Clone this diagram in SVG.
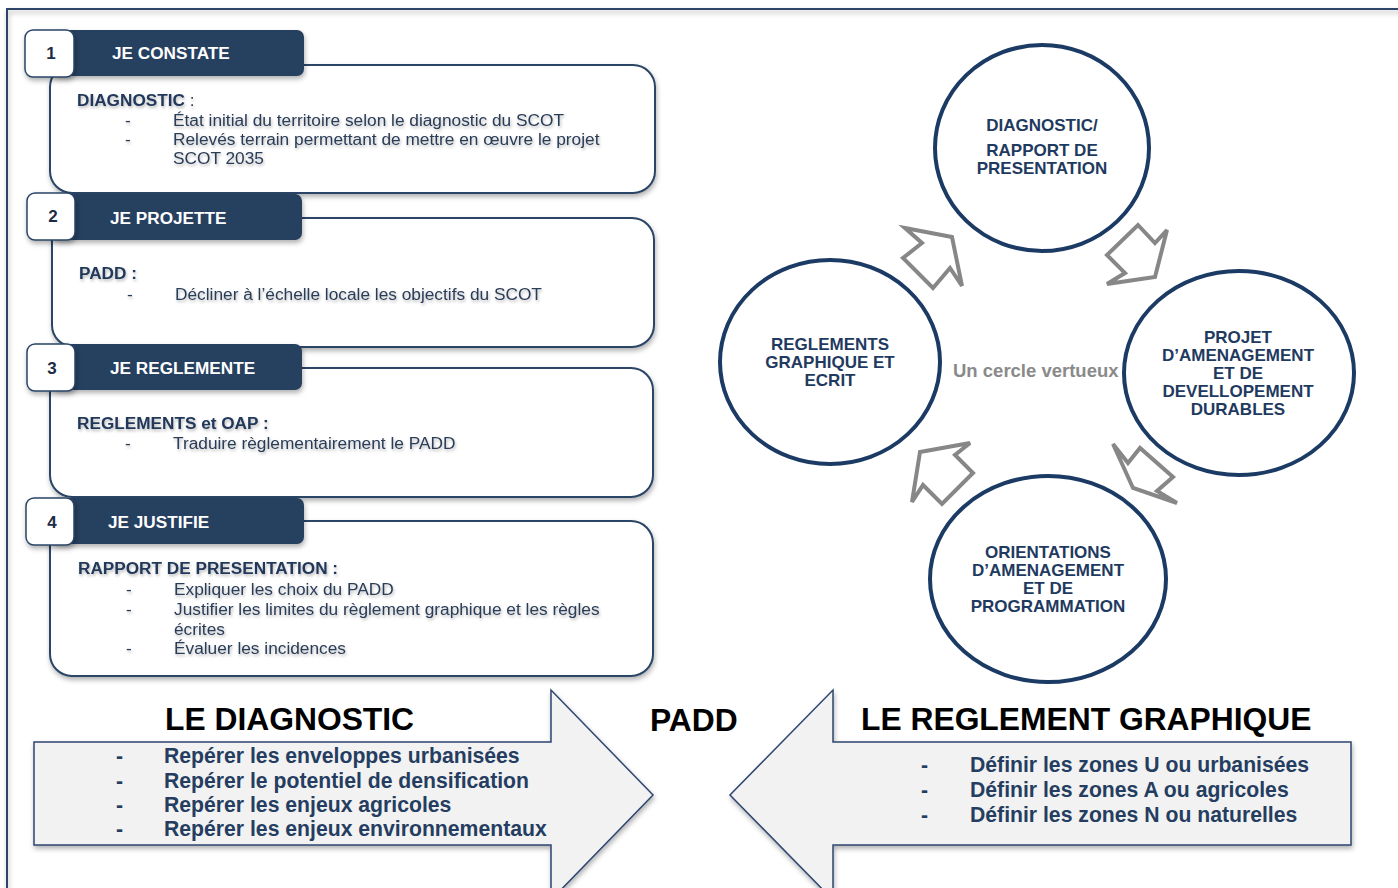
<svg xmlns="http://www.w3.org/2000/svg" width="1398" height="888" viewBox="0 0 1398 888">
<defs>
<filter id="sh" x="-10%" y="-10%" width="125%" height="140%"><feDropShadow dx="1" dy="3" stdDeviation="2.5" flood-color="#000" flood-opacity="0.3"/></filter>
<filter id="tsh" x="-5%" y="-20%" width="110%" height="160%"><feDropShadow dx="1" dy="2" stdDeviation="1.5" flood-color="#000" flood-opacity="0.28"/></filter>
<style>
.frame{fill:none;stroke:#2d4468;stroke-width:2}
.cbox{fill:#fff;stroke:#2a4466;stroke-width:2}
.hdr{fill:#283f5f}
.num{fill:#fff;stroke:#2a4466;stroke-width:1.5}
.numt{font:bold 17px "Liberation Sans",Arial,sans-serif;fill:#1c2c44;text-anchor:middle}
.hdrt{font:bold 17.2px "Liberation Sans",Arial,sans-serif;fill:#fff}
.bt{font:bold 17.2px "Liberation Sans",Arial,sans-serif;fill:#23395a}
.rt{font:17.3px "Liberation Sans",Arial,sans-serif;fill:#2a3c57}
.circ{fill:#fff;stroke:#1b3a64;stroke-width:4}
.ct{font:bold 17px "Liberation Sans",Arial,sans-serif;fill:#1f3a60;text-anchor:middle}
.arr{fill:#fff;stroke:#878787;stroke-width:4;stroke-linejoin:miter}
.vt{font:bold 18.5px "Liberation Sans",Arial,sans-serif;fill:#8a8a8a}
.big{fill:#f2f2f2;stroke:#2d4670;stroke-width:1.5}
.title{font:bold 31.8px "Liberation Sans",Arial,sans-serif;fill:#000}
.it{font:bold 21.2px "Liberation Sans",Arial,sans-serif;fill:#243d60}
</style>
</defs>
<rect width="1398" height="888" fill="#fff"/>
<rect class="frame" x="7" y="9" width="1420" height="920" filter="url(#sh)"/>

<g id="step1">
<rect class="cbox" x="50" y="65" width="605" height="128" rx="22" filter="url(#sh)"/>
<rect class="hdr" x="52" y="30" width="252" height="46" rx="7" filter="url(#sh)"/>
<rect class="num" x="25" y="30" width="49" height="47" rx="8" filter="url(#sh)"/>
<text class="numt" x="51" y="59">1</text>
<text class="hdrt" x="112" y="59">JE CONSTATE</text>
<g filter="url(#tsh)">
<text class="bt" x="77" y="106">DIAGNOSTIC<tspan class="rt" style="font-weight:normal"> :</tspan></text>
<text class="rt" x="125" y="126">-</text><text class="rt" x="173" y="126">État initial du territoire selon le diagnostic du SCOT</text>
<text class="rt" x="125" y="145">-</text><text class="rt" x="173" y="145">Relevés terrain permettant de mettre en œuvre le projet</text>
<text class="rt" x="173" y="164">SCOT 2035</text>
</g>
</g>

<g id="step2">
<rect class="cbox" x="52" y="218" width="602" height="129" rx="22" filter="url(#sh)"/>
<rect class="hdr" x="52" y="194" width="250" height="46" rx="7" filter="url(#sh)"/>
<rect class="num" x="27" y="193" width="48" height="47" rx="8" filter="url(#sh)"/>
<text class="numt" x="53" y="222">2</text>
<text class="hdrt" x="110" y="224">JE PROJETTE</text>
<g filter="url(#tsh)">
<text class="bt" x="79" y="279">PADD :</text>
<text class="rt" x="127" y="300">-</text><text class="rt" x="175" y="300">Décliner à l’échelle locale les objectifs du SCOT</text>
</g>
</g>

<g id="step3">
<rect class="cbox" x="50" y="368" width="603" height="129" rx="22" filter="url(#sh)"/>
<rect class="hdr" x="52" y="344" width="250" height="46" rx="7" filter="url(#sh)"/>
<rect class="num" x="27" y="344" width="48" height="47" rx="8" filter="url(#sh)"/>
<text class="numt" x="52" y="374">3</text>
<text class="hdrt" x="110" y="374">JE REGLEMENTE</text>
<g filter="url(#tsh)">
<text class="bt" x="77" y="429">REGLEMENTS et OAP :</text>
<text class="rt" x="125" y="449">-</text><text class="rt" x="173" y="449">Traduire règlementairement le PADD</text>
</g>
</g>

<g id="step4">
<rect class="cbox" x="50" y="521" width="603" height="155" rx="22" filter="url(#sh)"/>
<rect class="hdr" x="52" y="498" width="252" height="46" rx="7" filter="url(#sh)"/>
<rect class="num" x="26" y="498" width="48" height="47" rx="8" filter="url(#sh)"/>
<text class="numt" x="52" y="528">4</text>
<text class="hdrt" x="108" y="528">JE JUSTIFIE</text>
<g filter="url(#tsh)">
<text class="bt" x="78" y="574">RAPPORT DE PRESENTATION :</text>
<text class="rt" x="126" y="595">-</text><text class="rt" x="174" y="595">Expliquer les choix du PADD</text>
<text class="rt" x="126" y="615">-</text><text class="rt" x="174" y="615">Justifier les limites du règlement graphique et les règles</text>
<text class="rt" x="174" y="635">écrites</text>
<text class="rt" x="126" y="654">-</text><text class="rt" x="174" y="654">Évaluer les incidences</text>
</g>
</g>

<g id="connectors">
<polygon class="arr" points="905,228 952,237 962,286 950,268 933,288 903,258 922,243"/>
<polygon class="arr" points="1138,225 1155,243 1167,230 1155,277 1107,284 1125,273 1107,255"/>
<polygon class="arr" points="1113,444 1128,463 1140,448 1173,477 1157,491 1177,503 1133,488"/>
<polygon class="arr" points="920,452 970,443 955,455 973,473 942,504 923,485 912,502"/>
</g>

<g id="c-diagnostic">
<ellipse class="circ" cx="1042" cy="148" rx="107" ry="103"/>
<text class="ct" x="1042" y="131">DIAGNOSTIC/</text>
<text class="ct" x="1042" y="156">RAPPORT DE</text>
<text class="ct" x="1042" y="174">PRESENTATION</text>
</g>
<g id="c-padd">
<ellipse class="circ" cx="1239" cy="373" rx="115" ry="102"/>
<text class="ct" x="1238" y="343">PROJET</text>
<text class="ct" x="1238" y="361">D’AMENAGEMENT</text>
<text class="ct" x="1238" y="379">ET DE</text>
<text class="ct" x="1238" y="397">DEVELLOPEMENT</text>
<text class="ct" x="1238" y="415">DURABLES</text>
</g>
<g id="c-oap">
<ellipse class="circ" cx="1048" cy="579" rx="118" ry="103"/>
<text class="ct" x="1048" y="558">ORIENTATIONS</text>
<text class="ct" x="1048" y="576">D’AMENAGEMENT</text>
<text class="ct" x="1048" y="594">ET DE</text>
<text class="ct" x="1048" y="612">PROGRAMMATION</text>
</g>
<g id="c-reglements">
<ellipse class="circ" cx="830" cy="362" rx="110" ry="102"/>
<text class="ct" x="830" y="350">REGLEMENTS</text>
<text class="ct" x="830" y="368">GRAPHIQUE ET</text>
<text class="ct" x="830" y="386">ECRIT</text>
</g>
<g id="center-label">
<text class="vt" x="953" y="377">Un cercle vertueux</text>
</g>

<g id="arrow-diagnostic">
<path class="big" d="M34,742 H551 V690 L653,795 L551,900 V845 H34 Z" filter="url(#sh)"/>
<text class="title" x="165" y="730">LE DIAGNOSTIC</text>
<text class="it" x="116" y="763">-</text><text class="it" x="164" y="763">Repérer les enveloppes urbanisées</text>
<text class="it" x="116" y="788">-</text><text class="it" x="164" y="788">Repérer le potentiel de densification</text>
<text class="it" x="116" y="812">-</text><text class="it" x="164" y="812">Repérer les enjeux agricoles</text>
<text class="it" x="116" y="836">-</text><text class="it" x="164" y="836">Repérer les enjeux environnementaux</text>
</g>
<g id="padd-label">
<text class="title" x="650" y="731">PADD</text>
</g>
<g id="arrow-reglement">
<path class="big" d="M1351,742 H833 V690 L730,795 L833,900 V845 H1351 Z" filter="url(#sh)"/>
<text class="title" x="861" y="730">LE REGLEMENT GRAPHIQUE</text>
<text class="it" x="921" y="772">-</text><text class="it" x="970" y="772">Définir les zones U ou urbanisées</text>
<text class="it" x="921" y="797">-</text><text class="it" x="970" y="797">Définir les zones A ou agricoles</text>
<text class="it" x="921" y="822">-</text><text class="it" x="970" y="822">Définir les zones N ou naturelles</text>
</g>
</svg>
